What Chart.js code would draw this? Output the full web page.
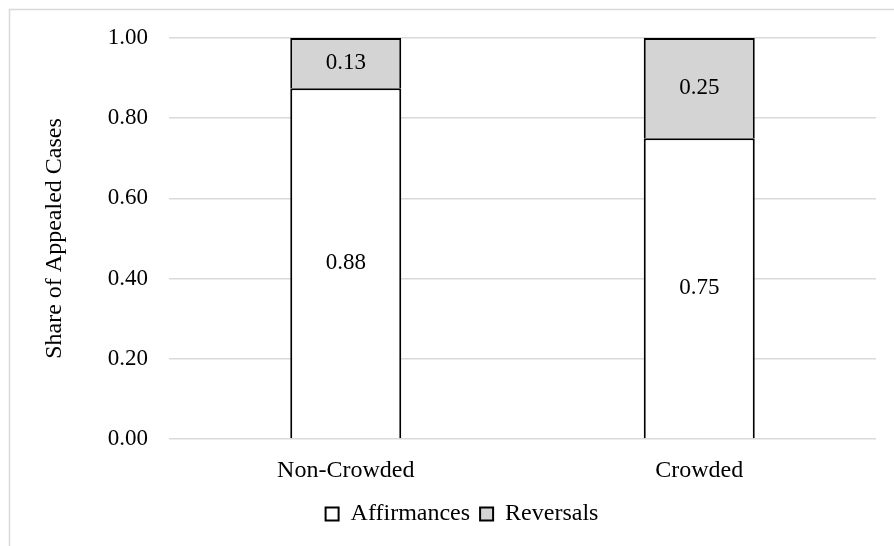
<!DOCTYPE html>
<html>
<head>
<meta charset="utf-8">
<script src="https://cdn.jsdelivr.net/npm/chart.js@4"></script>
<style>
  html, body { margin: 0; padding: 0; background: #ffffff; }
  #wrap { width: 894px; height: 546px; position: relative; }
</style>
</head>
<body>
<div id="wrap"><canvas id="chart" width="894" height="546"></canvas></div>
<script>
// Share of appealed cases by court docket condition
const categories = ['Non-Crowded', 'Crowded'];
const affirmances = [0.875, 0.75];
const reversals = [0.125, 0.25];
const yTicks = [0.00, 0.20, 0.40, 0.60, 0.80, 1.00];

const FONT = "'Liberation Serif', 'Times New Roman', serif";
const TEXT = '#000000';
const NUM_SIZE = 23;
const LABEL_SIZE = 24;

// Light grey frame around the figure (left and top edges)
const framePlugin = {
  id: 'frame',
  beforeDraw(chart) {
    const ctx = chart.ctx;
    ctx.save();
    ctx.strokeStyle = '#d9d9d9';
    ctx.lineWidth = 1.5;
    ctx.beginPath();
    ctx.moveTo(9.5, chart.height + 2);
    ctx.lineTo(9.5, 9.5);
    ctx.lineTo(chart.width + 2, 9.5);
    ctx.stroke();
    ctx.restore();
  }
};

// Nudge the legend so it sits under the middle of the plot
const legendShift = {
  id: 'legendShift',
  afterLayout(chart) {
    const lg = chart.legend;
    if (lg) { lg.left += 24; lg.right += 24; }
  }
};

// Value labels centred inside each stacked segment
const valueLabels = {
  id: 'valueLabels',
  afterDatasetsDraw(chart) {
    const ctx = chart.ctx;
    ctx.save();
    ctx.font = NUM_SIZE + 'px ' + FONT;
    ctx.fillStyle = TEXT;
    ctx.textAlign = 'center';
    ctx.textBaseline = 'middle';
    chart.data.datasets.forEach((ds, di) => {
      const meta = chart.getDatasetMeta(di);
      meta.data.forEach((bar, i) => {
        const v = ds.data[i];
        const p = bar.getProps(['x', 'y', 'base'], true);
        ctx.fillText(v.toFixed(2), p.x, (p.y + p.base) / 2);
      });
    });
    ctx.restore();
  }
};

new Chart(document.getElementById('chart'), {
  type: 'bar',
  data: {
    labels: categories,
    datasets: [
      {
        label: 'Affirmances',
        data: affirmances,
        backgroundColor: '#ffffff',
        borderColor: '#000000',
        borderWidth: 2,
        barPercentage: 0.314,
        categoryPercentage: 1.0
      },
      {
        label: 'Reversals',
        data: reversals,
        backgroundColor: '#d4d4d4',
        borderColor: '#000000',
        borderWidth: 2,
        barPercentage: 0.314,
        categoryPercentage: 1.0
      }
    ]
  },
  options: {
    responsive: false,
    animation: false,
    devicePixelRatio: 1,
    layout: { padding: { left: 0, right: 18, top: 38, bottom: 10 } },
    plugins: {
      legend: {
        position: 'bottom',
        labels: {
          font: { family: FONT, size: LABEL_SIZE },
          color: TEXT,
          boxWidth: 13,
          boxHeight: 13,
          padding: 10
        }
      },
      tooltip: { enabled: false }
    },
    scales: {
      x: {
        stacked: true,
        grid: { display: false },
        border: { display: false },
        ticks: {
          font: { family: FONT, size: LABEL_SIZE },
          color: TEXT,
          padding: 9
        },
        afterFit(scale) { scale.height = 53; }
      },
      y: {
        stacked: true,
        min: 0,
        max: 1,
        afterBuildTicks(scale) {
          scale.ticks = yTicks.map(v => ({ value: v }));
        },
        grid: {
          color: '#d9d9d9',
          lineWidth: 1.5,
          drawTicks: false
        },
        border: { display: false },
        ticks: {
          font: { family: FONT, size: NUM_SIZE },
          color: TEXT,
          padding: 21,
          callback: v => Number(v).toFixed(2)
        },
        title: {
          display: true,
          text: 'Share of Appealed Cases',
          font: { family: FONT, size: LABEL_SIZE },
          color: TEXT,
          padding: { top: 40, bottom: 0 }
        },
        afterFit(scale) { scale.width = 169; }
      }
    }
  },
  plugins: [framePlugin, legendShift, valueLabels]
});
</script>
</body>
</html>
